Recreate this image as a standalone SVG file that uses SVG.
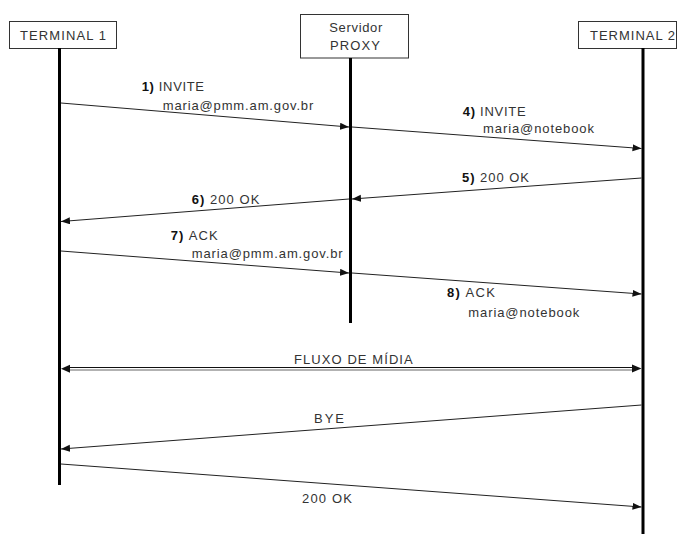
<svg xmlns="http://www.w3.org/2000/svg" width="677" height="534" viewBox="0 0 677 534">
  <style>
    .box { fill: #fff; stroke: #333; stroke-width: 1; }
    .life { stroke: #000; stroke-width: 3; }
    .msg { stroke: #222; stroke-width: 1; fill: none; marker-end: url(#head); }
    .lbl { font-family: "Liberation Sans", Arial, sans-serif; font-size: 13px; fill: #333; }
    .num { font-weight: bold; fill: #111; }
    .head { fill: #111; }
  </style>
  <defs>
    <marker id="head" markerUnits="userSpaceOnUse" markerWidth="10" markerHeight="8" refX="9" refY="3.5" orient="auto">
      <path d="M0,0 L9,3.5 L0,7 z" fill="#111"/>
    </marker>
  </defs>
  <rect width="677" height="534" fill="#fff"/>

  <!-- participants -->
  <g id="terminal1">
    <rect class="box" x="9.5" y="21.5" width="107" height="27"/>
    <text class="lbl" x="20" y="40" textLength="86" lengthAdjust="spacing">TERMINAL 1</text>
    <line class="life" x1="59.5" y1="48" x2="59.5" y2="485"/>
  </g>
  <g id="proxy">
    <rect class="box" x="300.5" y="14.5" width="108" height="43.5"/>
    <text class="lbl" x="329.3" y="31.7" textLength="53" lengthAdjust="spacing">Servidor</text>
    <text class="lbl" x="330" y="50" textLength="50" lengthAdjust="spacing">PROXY</text>
    <line class="life" x1="350.5" y1="58" x2="350.5" y2="323"/>
  </g>
  <g id="terminal2">
    <rect class="box" x="578.5" y="21.5" width="98" height="27"/>
    <text class="lbl" x="590" y="40" textLength="85" lengthAdjust="spacing">TERMINAL 2</text>
    <line class="life" x1="643" y1="48" x2="643" y2="534"/>
  </g>

  <!-- messages -->
  <g id="connectors">
    <line class="msg" x1="61" y1="103" x2="349" y2="127"/>
    <line class="msg" x1="352" y1="127" x2="641.5" y2="148.5"/>
    <line class="msg" x1="641.5" y1="178" x2="352" y2="199"/>
    <line class="msg" x1="349" y1="199" x2="61" y2="221.5"/>
    <line class="msg" x1="61" y1="251" x2="349" y2="273"/>
    <line class="msg" x1="352" y1="273" x2="641.5" y2="294"/>

    <!-- media stream: double line, heads on both ends -->
    <line x1="66" y1="367.5" x2="636" y2="367.5" stroke="#111" stroke-width="1"/>
    <line x1="66" y1="370" x2="636" y2="370" stroke="#666" stroke-width="1"/>
    <polygon class="head" points="61,368.7 70,364.7 70,372.7"/>
    <polygon class="head" points="641.5,368.5 632,364.5 632,372.5"/>

    <line class="msg" x1="641.5" y1="405" x2="61" y2="449"/>
    <line class="msg" x1="61" y1="464" x2="641.5" y2="507"/>
  </g>

  <!-- message labels -->
  <g id="labels">
    <text class="lbl" x="141.7" y="90.7" textLength="62.3" lengthAdjust="spacing"><tspan class="num">1)</tspan> INVITE</text>
    <text class="lbl" x="162.7" y="110" textLength="150.6" lengthAdjust="spacing">maria@pmm.am.gov.br</text>
    <text class="lbl" x="462.7" y="116" textLength="63" lengthAdjust="spacing"><tspan class="num">4)</tspan> INVITE</text>
    <text class="lbl" x="483" y="133" textLength="111" lengthAdjust="spacing">maria@notebook</text>
    <text class="lbl" x="462" y="181.7" textLength="67" lengthAdjust="spacing"><tspan class="num">5)</tspan> 200 OK</text>
    <text class="lbl" x="191.7" y="204" textLength="67.6" lengthAdjust="spacing"><tspan class="num">6)</tspan> 200 OK</text>
    <text class="lbl" x="170.7" y="240" textLength="47" lengthAdjust="spacing"><tspan class="num">7)</tspan> ACK</text>
    <text class="lbl" x="191.7" y="258" textLength="151" lengthAdjust="spacing">maria@pmm.am.gov.br</text>
    <text class="lbl" x="447" y="297" textLength="48" lengthAdjust="spacing"><tspan class="num">8)</tspan> ACK</text>
    <text class="lbl" x="468.3" y="316.7" textLength="111" lengthAdjust="spacing">maria@notebook</text>
    <text class="lbl" x="294" y="364" textLength="118.7" lengthAdjust="spacing">FLUXO DE MÍDIA</text>
    <text class="lbl" x="314" y="423" textLength="30" lengthAdjust="spacing">BYE</text>
    <text class="lbl" x="302" y="503" textLength="50" lengthAdjust="spacing">200 OK</text>
  </g>
</svg>
